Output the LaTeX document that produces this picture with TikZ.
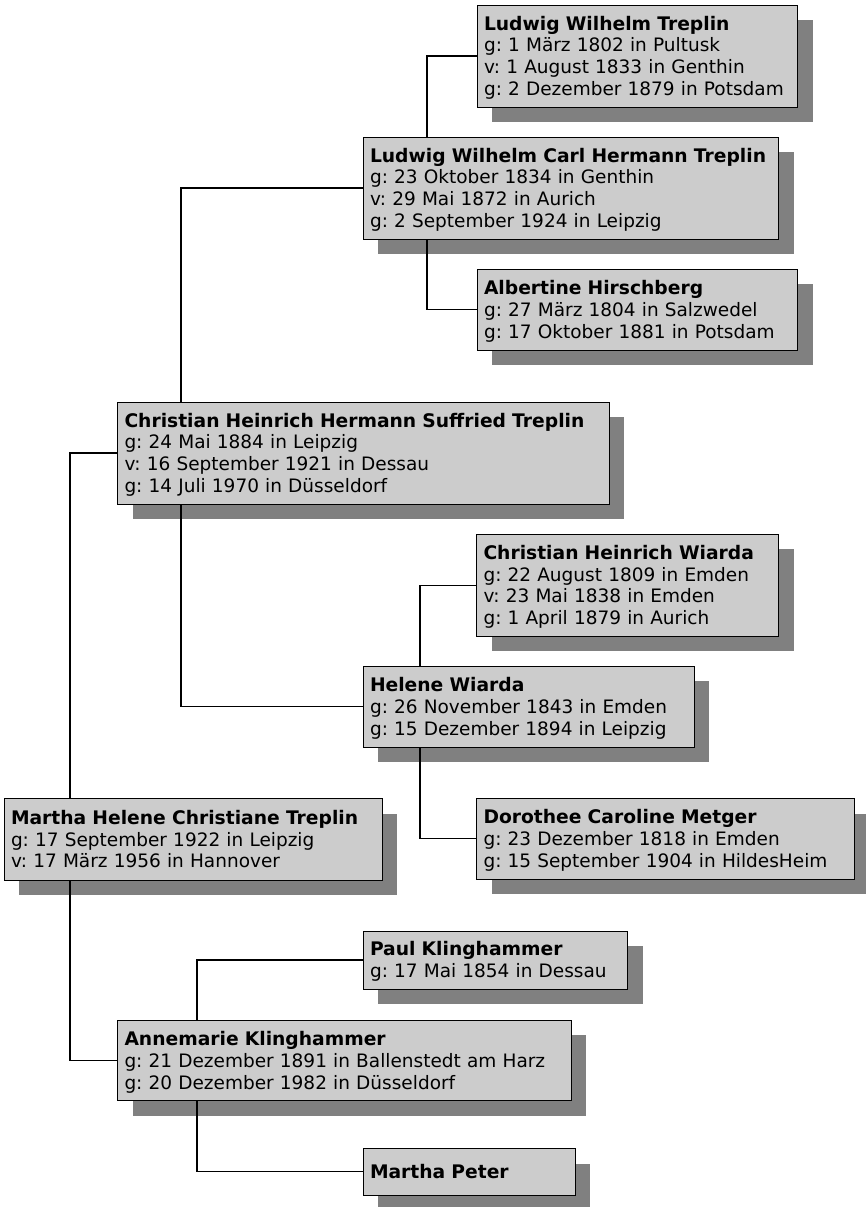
\documentclass[tikz,border=0pt]{standalone}
\usepackage{fontspec}
\setmainfont{DejaVu Sans}
\usetikzlibrary{shadows}
\definecolor{boxgray}{RGB}{204,204,204}
\definecolor{shadowgray}{RGB}{128,128,128}
\newcommand\pst{\rule[-4.05pt]{0pt}{21.8pt}}
\newcommand\pname[1]{{\fontsize{18.7pt}{21.8pt}\selectfont\bfseries\pst #1}}
\frenchspacing
\begin{document}
\begin{tikzpicture}[x=1pt,y=-1pt,
  person/.style={draw=black, line width=0.9pt, fill=boxgray, rectangle,
    anchor=north west, outer sep=0pt, inner xsep=7pt, inner ysep=0pt,
    align=left, font=\fontsize{18.5pt}{21.8pt}\selectfont\frenchspacing,
    general shadow={fill=shadowgray, draw=none, shadow xshift=15pt, shadow yshift=-15pt}},
  link/.style={draw=black, line width=1.1pt}]
\useasboundingbox (0,0) rectangle (866,1207);

\node[person, minimum width=320.5pt, text width=306.5pt, minimum height=102pt] (lwt) at (477,5)
  {\pname{Ludwig Wilhelm Treplin}\\\pst g: 1 März 1802 in Pultusk\\\pst v: 1 August 1833 in Genthin\\\pst g: 2 Dezember 1879 in Potsdam};
\node[person, minimum width=415.5pt, text width=401.5pt, minimum height=102pt] (lwch) at (363,137)
  {\pname{Ludwig Wilhelm Carl Hermann Treplin}\\\pst g: 23 Oktober 1834 in Genthin\\\pst v: 29 Mai 1872 in Aurich\\\pst g: 2 September 1924 in Leipzig};
\node[person, minimum width=320.5pt, text width=306.5pt, minimum height=80.7pt] (ah) at (477,269.3)
  {\pname{Albertine Hirschberg}\\\pst g: 27 März 1804 in Salzwedel\\\pst g: 17 Oktober 1881 in Potsdam};
\node[person, minimum width=491.5pt, text width=477.5pt, minimum height=102pt] (chhst) at (117.5,402)
  {\pname{Christian Heinrich Hermann Suffried Treplin}\\\pst g: 24 Mai 1884 in Leipzig\\\pst v: 16 September 1921 in Dessau\\\pst g: 14 Juli 1970 in Düsseldorf};
\node[person, minimum width=302.3pt, text width=288.3pt, minimum height=102.3pt] (chw) at (476.5,534)
  {\pname{Christian Heinrich Wiarda}\\\pst g: 22 August 1809 in Emden\\\pst v: 23 Mai 1838 in Emden\\\pst g: 1 April 1879 in Aurich};
\node[person, minimum width=331pt, text width=317pt, minimum height=80.7pt] (hw) at (363,666.3)
  {\pname{Helene Wiarda}\\\pst g: 26 November 1843 in Emden\\\pst g: 15 Dezember 1894 in Leipzig};
\node[person, minimum width=378pt, text width=364pt, minimum height=80.7pt] (dcm) at (476.5,798.5)
  {\pname{Dorothee Caroline Metger}\\\pst g: 23 Dezember 1818 in Emden\\\pst g: 15 September 1904 in HildesHeim};
\node[person, minimum width=378pt, text width=364pt, minimum height=81.5pt] (mhct) at (4,798.5)
  {\pname{Martha Helene Christiane Treplin}\\\pst g: 17 September 1922 in Leipzig\\\pst v: 17 März 1956 in Hannover};
\node[person, minimum width=264.7pt, text width=250.7pt, minimum height=58pt] (pk) at (363,931)
  {\pname{Paul Klinghammer}\\\pst g: 17 Mai 1854 in Dessau};
\node[person, minimum width=453.8pt, text width=439.8pt, minimum height=80.2pt] (ak) at (117.5,1020.3)
  {\pname{Annemarie Klinghammer}\\\pst g: 21 Dezember 1891 in Ballenstedt am Harz\\\pst g: 20 Dezember 1982 in Düsseldorf};
\node[person, minimum width=212pt, text width=198pt, minimum height=46.5pt] (mp) at (363,1148.5)
  {\pname{Martha Peter}};

\draw[link] (lwt.west) -| ([xshift=64pt]lwch.north west);
\draw[link] (ah.west) -| ([xshift=64pt]lwch.south west);
\draw[link] (lwch.west) -| ([xshift=63.5pt]chhst.north west);
\draw[link] (hw.west) -| ([xshift=63.5pt]chhst.south west);
\draw[link] (chw.west) -| ([xshift=57pt]hw.north west);
\draw[link] (dcm.west) -| ([xshift=57pt]hw.south west);
\draw[link] (chhst.west) -| ([xshift=66pt]mhct.north west);
\draw[link] (ak.west) -| ([xshift=66pt]mhct.south west);
\draw[link] (pk.west) -| ([xshift=79.5pt]ak.north west);
\draw[link] (mp.west) -| ([xshift=79.5pt]ak.south west);
\end{tikzpicture}
\end{document}
